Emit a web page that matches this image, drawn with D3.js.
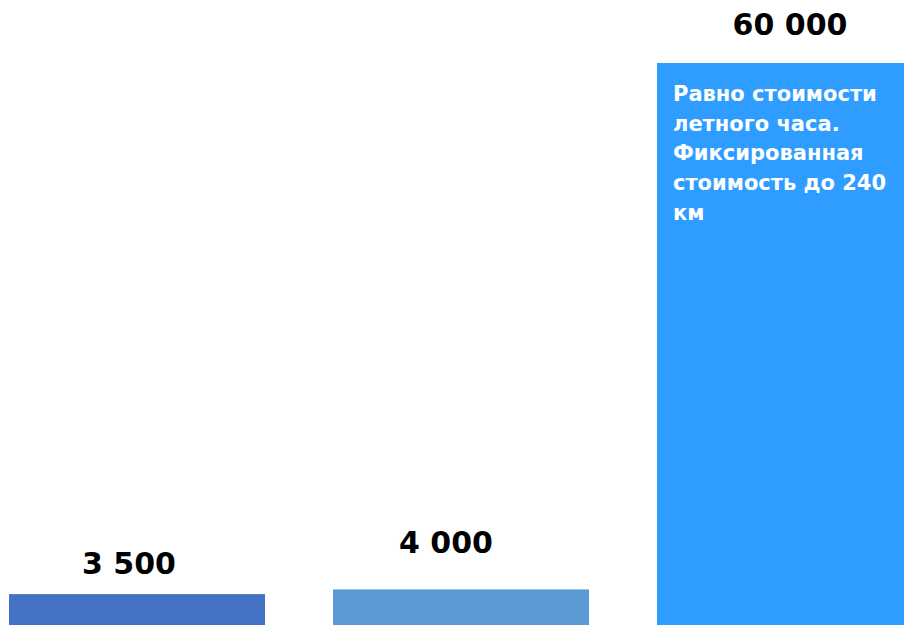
<!DOCTYPE html>
<html>
<head>
<meta charset="utf-8">
<script src="https://cdn.jsdelivr.net/npm/d3@7"></script>
<style>
  html, body { margin: 0; padding: 0; background: #fff; }
  svg { display: block; }
</style>
</head>
<body>
<div id="chart"></div>
<script>
// data
var categories = ['Тариф A', 'Тариф B', 'Тариф C'];
var values = [3500, 4000, 60000];
var valueLabels = ['3 500', '4 000', '60 000'];
var barColors = ['#4472C4', '#5B9BD5', '#2E9DFF'];
var noteLines = ['Равно стоимости', 'летного часа.', 'Фиксированная', 'стоимость до 240', 'км'];

var width = 904, height = 625;
var font = '"DejaVu Sans", sans-serif';

var svg = d3.select('#chart')
  .append('svg')
  .attr('width', width)
  .attr('height', height);

var x = d3.scaleBand()
  .domain(categories)
  .range([9, 913])
  .paddingInner(68 / 324)
  .paddingOuter(0);

var y = d3.scaleLinear()
  .domain([0, 60000])
  .range([627, 63]);

svg.selectAll('.bar')
  .data(values)
  .enter()
  .append('rect')
  .attr('class', 'bar')
  .attr('x', function(d, i) { return x(categories[i]); })
  .attr('y', function(d) { return y(d); })
  .attr('width', x.bandwidth())
  .attr('height', function(d) { return y(0) - y(d); })
  .attr('fill', function(d, i) { return barColors[i]; });

// value labels sit a bit left of centre in the original
var labelDx = [-8, -15, 5];
var labelGap = [20, 36, 28];

svg.selectAll('.value')
  .data(values)
  .enter()
  .append('text')
  .attr('class', 'value')
  .attr('x', function(d, i) { return x(categories[i]) + x.bandwidth() / 2 + labelDx[i]; })
  .attr('y', function(d, i) { return y(d) - labelGap[i]; })
  .attr('text-anchor', 'middle')
  .attr('font-family', font)
  .attr('font-weight', 700)
  .attr('font-size', 30)
  .attr('fill', '#000')
  .text(function(d, i) { return valueLabels[i]; });

// note inside the tall bar
var last = categories[categories.length - 1];
var note = svg.append('text')
  .attr('x', x(last) + 16)
  .attr('y', y(values[values.length - 1]) + 38)
  .attr('font-family', font)
  .attr('font-weight', 700)
  .attr('font-size', 21)
  .attr('fill', '#fff');

note.selectAll('tspan')
  .data(noteLines)
  .enter()
  .append('tspan')
  .attr('x', x(last) + 16)
  .attr('dy', function(d, i) { return i === 0 ? 0 : 29.7; })
  .text(function(d) { return d; });
</script>
</body>
</html>
